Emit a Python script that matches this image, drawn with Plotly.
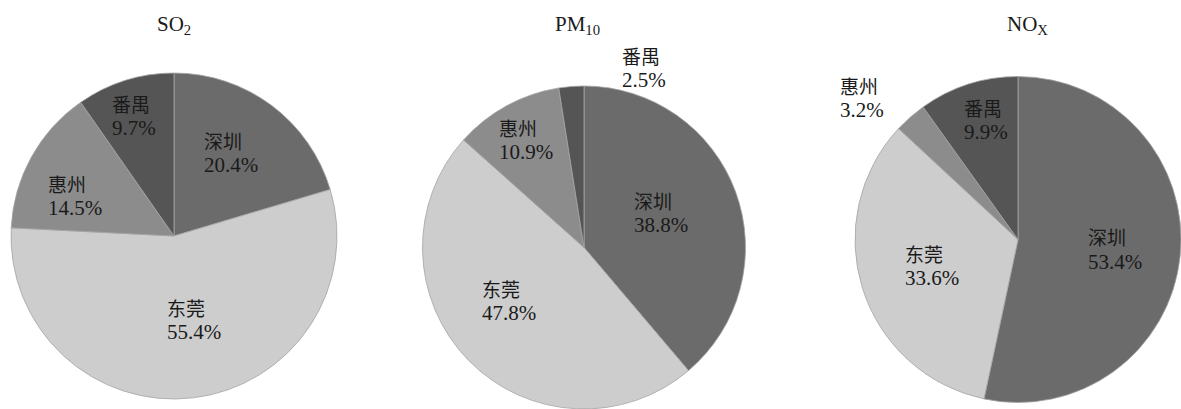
import plotly.graph_objects as go

W, H = 1181, 409

# Share of emissions by city for each pollutant (%)
cities = ["深圳", "东莞", "惠州", "番禺"]
so2_share = [20.4, 55.4, 14.5, 9.7]
pm10_share = [38.8, 47.8, 10.9, 2.5]
nox_share = [53.4, 33.6, 3.2, 9.9]

titles = ["SO<sub>2</sub>", "PM<sub>10</sub>", "NO<sub>X</sub>"]
colors = ["#6b6b6b", "#cdcdcd", "#8c8c8c", "#555555"]

serif = "Liberation Serif"
cjk = "Noto Sans CJK SC"
ink = "#1a1a1a"

def px_x(x):
    return x / W

def px_y(y):
    return 1 - y / H

# pie domains in pixel space (left, right, top, bottom)
domains = [
    (11, 337, 73, 399),
    (421, 747, 86, 409),
    (855, 1181, 76, 403),
]

# label anchor points (left edge, centre of the name line) per pie, per city
label_pos = [
    {"深圳": (203, 140), "东莞": (166, 307), "惠州": (47, 183), "番禺": (111, 103)},
    {"深圳": (633, 200), "东莞": (481, 288), "惠州": (498, 127), "番禺": (621, 55)},
    {"深圳": (1087, 237), "东莞": (904, 253), "惠州": (839, 85), "番禺": (963, 107)},
]
line_gap = 25
title_pos = [(174, 25), (577, 25), (1027, 25)]

fig = go.Figure()
annotations = []
for i, vals in enumerate([so2_share, pm10_share, nox_share]):
    l, r, t, b = domains[i]
    fig.add_trace(go.Pie(
        labels=cities, values=vals, sort=False, direction="clockwise",
        rotation=0, textinfo="none", hoverinfo="label+percent",
        marker=dict(colors=colors, line=dict(color="#a5a5a5", width=0.8)),
        domain=dict(x=[px_x(l), px_x(r)], y=[px_y(b), px_y(t)]),
        showlegend=False,
    ))
    for city, v in zip(cities, vals):
        x0, y0 = label_pos[i][city]
        annotations.append(dict(
            x=px_x(x0 - 1), y=px_y(y0), xref="paper", yref="paper",
            xanchor="left", yanchor="middle", showarrow=False,
            text=city, font=dict(family=cjk, size=19, color=ink),
        ))
        annotations.append(dict(
            x=px_x(x0 - 1), y=px_y(y0 + line_gap), xref="paper", yref="paper",
            xanchor="left", yanchor="middle", showarrow=False,
            text=f"{v:.1f}%", font=dict(family=serif, size=21, color=ink),
        ))
    tx, ty = title_pos[i]
    annotations.append(dict(
        x=px_x(tx), y=px_y(ty), xref="paper", yref="paper",
        xanchor="center", yanchor="middle", showarrow=False,
        text=titles[i], font=dict(family=serif, size=21, color=ink),
    ))

fig.update_layout(
    width=W, height=H, margin=dict(l=0, r=0, t=0, b=0),
    paper_bgcolor="white", plot_bgcolor="white",
    annotations=annotations,
)

fig.write_html("out.html")
